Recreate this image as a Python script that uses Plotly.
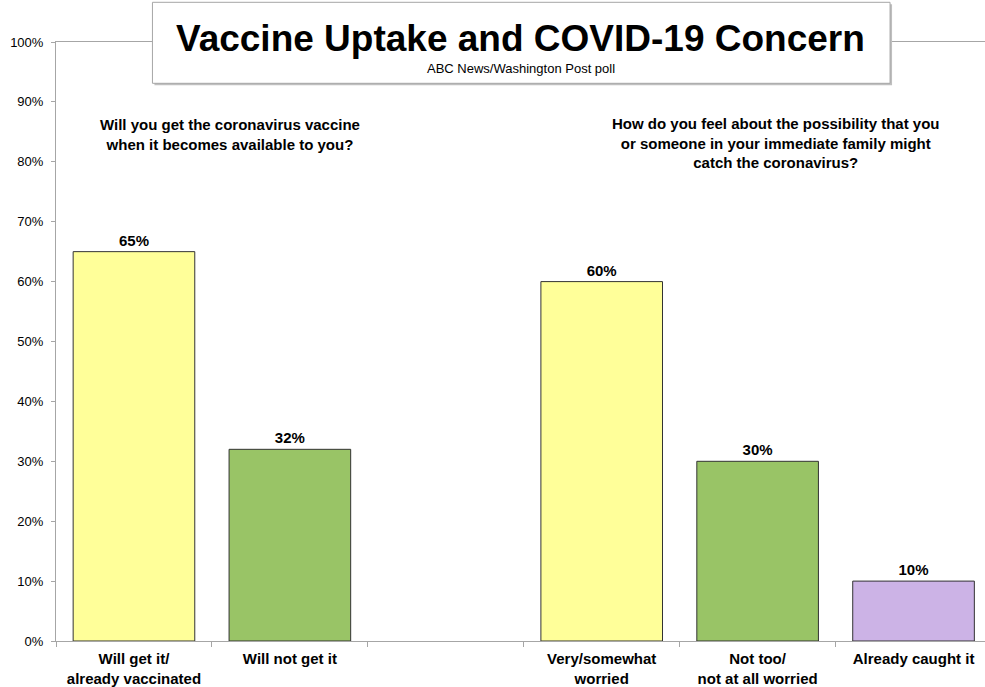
import plotly.graph_objects as go

categories = ["Will get it/<br>already vaccinated", "Will not get it", " ",
              "Very/somewhat<br>worried", "Not too/<br>not at all worried", "Already caught it"]
values = [65, 32, None, 60, 30, 10]
colors = ["#FFFF99", "#99C466", "#FFFFFF", "#FFFF99", "#99C466", "#CCB3E6"]
labels = ["65%", "32%", "", "60%", "30%", "10%"]
y_ticks = [0, 10, 20, 30, 40, 50, 60, 70, 80, 90, 100]
y_ticktext = [f"{v}%" for v in y_ticks]

title = "Vaccine Uptake and COVID-19 Concern"
subtitle = "ABC News/Washington Post poll"
q_left = "Will you get the coronavirus vaccine<br>when it becomes available to you?"
q_right = ("How do you feel about the possibility that you<br>"
           "or someone in your immediate family might<br>catch the coronavirus?")

FONT = "Arial, 'Liberation Sans', sans-serif"

fig = go.Figure(go.Bar(
    x=categories, y=values,
    marker=dict(color=colors, line=dict(color="#333333", width=1)),
    width=0.78,
    text=labels, textposition="outside",
    textfont=dict(family=FONT, size=15, color="#000000", weight="bold"),
    cliponaxis=False,
    hoverinfo="skip",
))

W, H = 985, 687
L, B, T = 55.5, 46.3, 41.7
pw = W - L
ph = H - B - T

def px(x):
    return (x - L) / pw

def py(y):
    return (H - B - y) / ph

fig.update_layout(
    width=W, height=H,
    margin=dict(l=L, r=0, t=T, b=B, pad=0),
    plot_bgcolor="white", paper_bgcolor="white",
    showlegend=False,
    bargap=0.22,
    font=dict(family=FONT, color="#000000"),
    xaxis=dict(
        type="category", categoryorder="array", categoryarray=categories,
        range=[-0.5, -0.5 + pw / 156.0],
        showline=True, linecolor="#A6A6A6", linewidth=1, mirror=True,
        ticks="outside", tickson="boundaries", ticklen=5, tickcolor="#A6A6A6",
        ticklabelstandoff=4,
        showgrid=False, zeroline=False,
        tickfont=dict(family=FONT, size=15, color="#000000", weight="bold"),
    ),
    yaxis=dict(
        range=[0, 100], tickvals=y_ticks, ticktext=y_ticktext,
        showline=True, linecolor="#A6A6A6", linewidth=1,
        ticks="outside", ticklen=4, tickcolor="#A6A6A6",
        ticklabelstandoff=5,
        showgrid=False, zeroline=False,
        tickfont=dict(family=FONT, size=13, color="#000000"),
    ),
    shapes=[
        dict(type="rect", xref="paper", yref="paper",
             x0=px(154), x1=px(892), y0=py(85), y1=py(4),
             line=dict(width=0), fillcolor="#BFBFBF", layer="above"),
        dict(type="rect", xref="paper", yref="paper",
             x0=px(152), x1=px(890), y0=py(83), y1=py(2),
             line=dict(color="#A6A6A6", width=1), fillcolor="white", layer="above"),
    ],
    annotations=[
        dict(text=f"<b>{title}</b>", xref="paper", yref="paper",
             x=px(520), y=py(38), xanchor="center", yanchor="middle",
             showarrow=False, font=dict(family=FONT, size=37, color="#000000")),
        dict(text=subtitle, xref="paper", yref="paper",
             x=px(521), y=py(68), xanchor="center", yanchor="middle",
             showarrow=False, font=dict(family=FONT, size=13, color="#000000")),
        dict(text=f"<b>{q_left}</b>", xref="paper", yref="paper",
             x=px(230), y=py(134), xanchor="center", yanchor="middle",
             showarrow=False, align="center",
             font=dict(family=FONT, size=15, color="#000000")),
        dict(text=f"<b>{q_right}</b>", xref="paper", yref="paper",
             x=px(776), y=py(143), xanchor="center", yanchor="middle",
             showarrow=False, align="center",
             font=dict(family=FONT, size=15, color="#000000")),
    ],
)

fig.write_html("out.html", config={"displayModeBar": False},
               post_script="document.body.style.margin='0';document.body.style.padding='0';")
